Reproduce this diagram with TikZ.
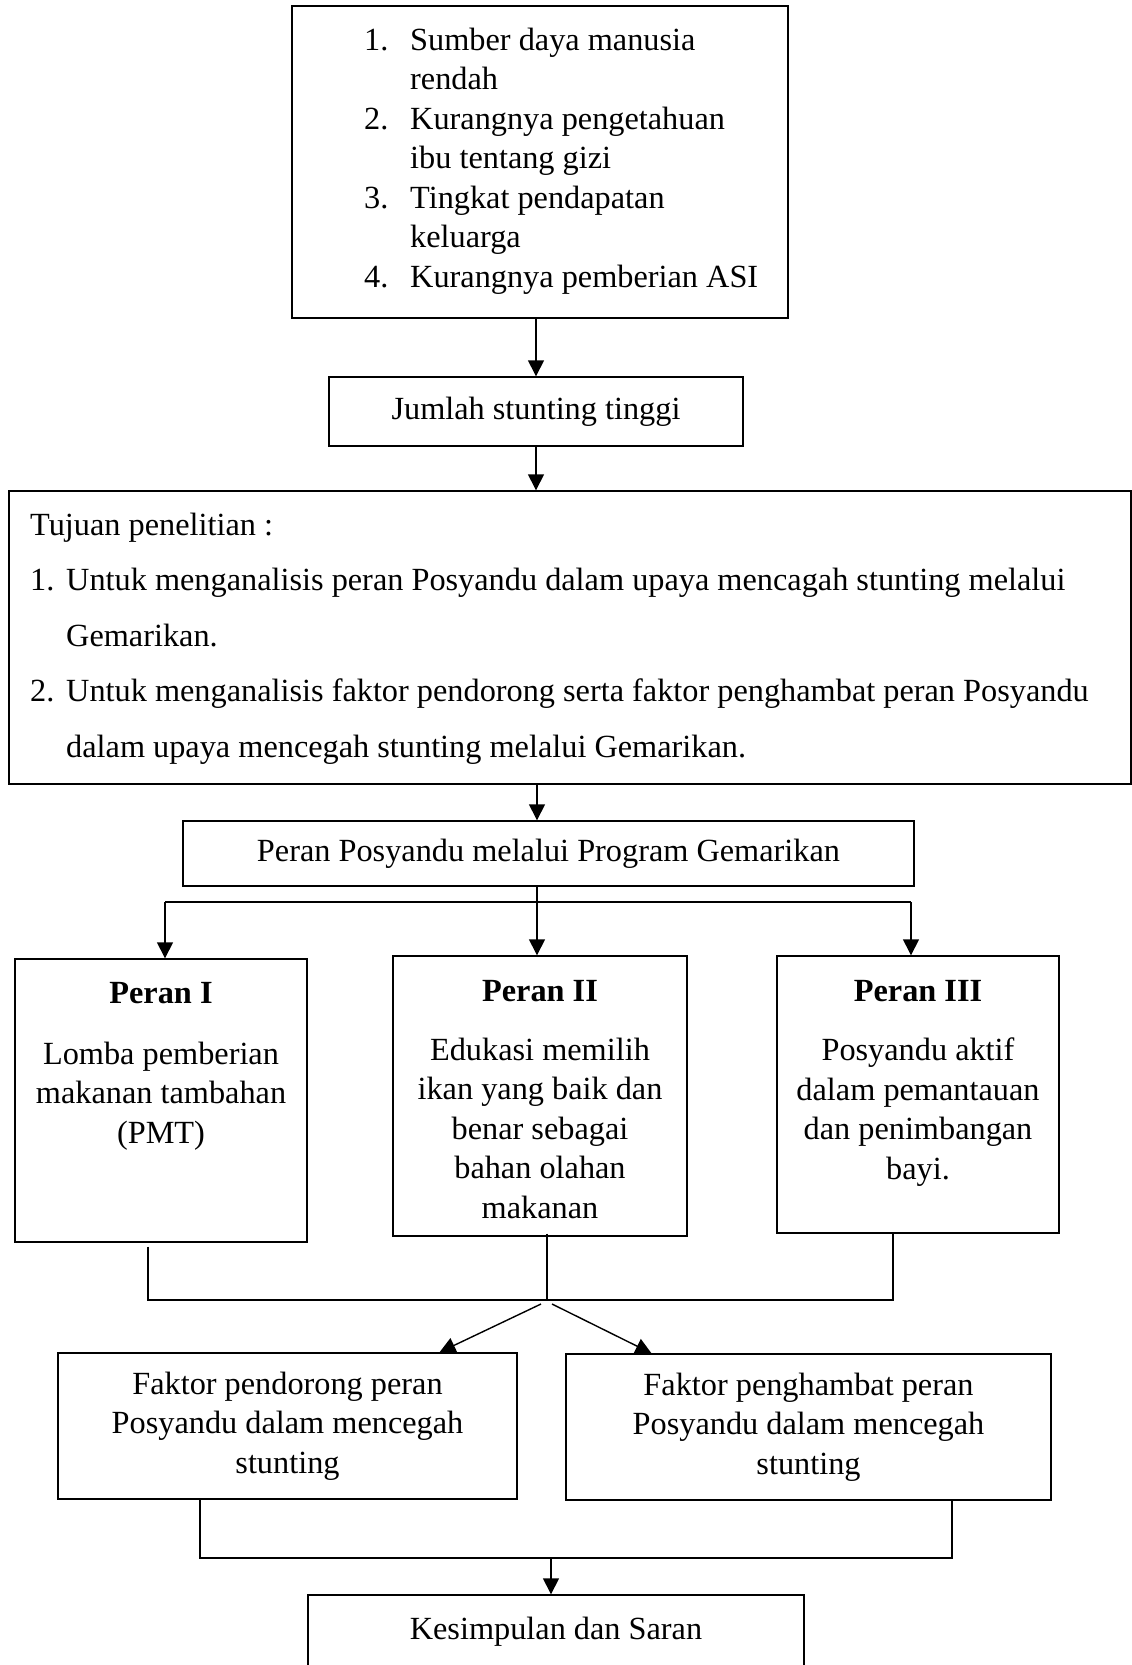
\documentclass[tikz,border=0pt]{standalone}
\usepackage{fontspec}
\setmainfont{Liberation Serif}
\usetikzlibrary{arrows.meta}

\tikzset{
  kotak/.style={draw, line width=1.4pt, inner sep=0pt, align=center},
  tulisan/.style={inner sep=0pt, align=center},
  panah/.style={line width=1.4pt, -{Triangle[length=16pt,width=16pt]}},
  garis/.style={line width=1.4pt}
}

\begin{document}
\begin{tikzpicture}[x=1pt, y=-1pt, font=\fontsize{32.3}{39.5}\selectfont]
\useasboundingbox (0,0) rectangle (1132,1665);

% masalah
\node[kotak, minimum width=496, minimum height=312] (masalah) at (540,162) {};
\node[tulisan, align=left, anchor=base west] (daftar) at (364,287)
  {\makebox[46pt][l]{1.}Sumber daya manusia\\
   \hspace*{46pt}rendah\\
   \makebox[46pt][l]{2.}Kurangnya pengetahuan\\
   \hspace*{46pt}ibu tentang gizi\\
   \makebox[46pt][l]{3.}Tingkat pendapatan\\
   \hspace*{46pt}keluarga\\
   \makebox[46pt][l]{4.}Kurangnya pemberian ASI};

\node[kotak, minimum width=414, minimum height=69] (jumlah) at (536,411.5) {Jumlah stunting tinggi};

% tujuan penelitian
\node[kotak, minimum width=1122, minimum height=293] (tujuan) at (570,637.5) {};
\node[tulisan, align=left, anchor=base west, font=\fontsize{32.3}{55.6}\selectfont] (isitujuan) at (30,757.4)
  {Tujuan penelitian :\\
   \makebox[36pt][l]{1.}Untuk menganalisis peran Posyandu dalam upaya mencagah stunting melalui\\
   \hspace*{36pt}Gemarikan.\\
   \makebox[36pt][l]{2.}Untuk menganalisis faktor pendorong serta faktor penghambat peran Posyandu\\
   \hspace*{36pt}dalam upaya mencegah stunting melalui Gemarikan.};

\node[kotak, minimum width=731, minimum height=65] (program) at (548.5,853.5) {Peran Posyandu melalui Program Gemarikan};

% tiga peran
\node[kotak, minimum width=292, minimum height=283] (peran1) at (161,1100.5) {};
\node[kotak, minimum width=294, minimum height=280] (peran2) at (540,1096) {};
\node[kotak, minimum width=282, minimum height=277] (peran3) at (918,1094.5) {};
\node[tulisan, anchor=base] (judul1) at (161,1003) {\textbf{Peran I}};
\node[tulisan, anchor=base] (judul2) at (540,1001) {\textbf{Peran II}};
\node[tulisan, anchor=base] (judul3) at (918,1001) {\textbf{Peran III}};
\node[tulisan, anchor=base] (isi1) at (161,1143) {Lomba pemberian\\makanan tambahan\\(PMT)};
\node[tulisan, anchor=base] (isi2) at (540,1218) {Edukasi memilih\\ikan yang baik dan\\benar sebagai\\bahan olahan\\makanan};
\node[tulisan, anchor=base] (isi3) at (918,1179) {Posyandu aktif\\dalam pemantauan\\dan penimbangan\\bayi.};

% faktor
\node[kotak, minimum width=459, minimum height=146] (pendorong) at (287.5,1426) {Faktor pendorong peran\\Posyandu dalam mencegah\\stunting};
\node[kotak, minimum width=485, minimum height=146] (penghambat) at (808.5,1427) {Faktor penghambat peran\\Posyandu dalam mencegah\\stunting};

\node[kotak, minimum width=496, minimum height=74] (kesimpulan) at (556,1632) {Kesimpulan dan Saran};

% titik bantu
\coordinate (cabang) at (537,902);
\coordinate (cabangkiri) at (165,902);
\coordinate (cabangkanan) at (911,902);
\coordinate (gabung) at (547,1300);
\coordinate (gabungkiri) at (148,1300);
\coordinate (gabungkanan) at (893,1300);
\coordinate (akhir) at (551,1558);
\coordinate (akhirkiri) at (200,1558);
\coordinate (akhirkanan) at (952,1558);

% panah
\draw[panah] (jumlah.north |- masalah.south) -- (jumlah.north);
\draw[panah] (jumlah.south) -- (jumlah.south |- tujuan.north);
\draw[panah] (cabang |- tujuan.south) -- (cabang |- program.north);
\draw[garis] (cabang |- program.south) -- (cabang);
\draw[garis] (cabangkiri) -- (cabangkanan);
\draw[panah] (cabangkiri) -- (cabangkiri |- peran1.north);
\draw[panah] (cabang) -- (cabang |- peran2.north);
\draw[panah] (cabangkanan) -- (cabangkanan |- peran3.north);

\draw[garis] ([yshift=-4pt]gabungkiri |- peran1.south) -- (gabungkiri) -- (gabungkanan) -- (gabungkanan |- peran3.south);
\draw[garis] ([yshift=3pt]gabung |- peran2.south) -- (gabung);
\draw[panah] ([shift={(-6,4)}]gabung) -- ([xshift=152pt]pendorong.north);
\draw[panah] ([shift={(5,4)}]gabung) -- ([xshift=-157pt]penghambat.north);

\draw[garis] (akhirkiri |- pendorong.south) -- (akhirkiri) -- (akhirkanan) -- (akhirkanan |- penghambat.south);
\draw[panah] (akhir) -- (akhir |- kesimpulan.north);
\end{tikzpicture}
\end{document}
